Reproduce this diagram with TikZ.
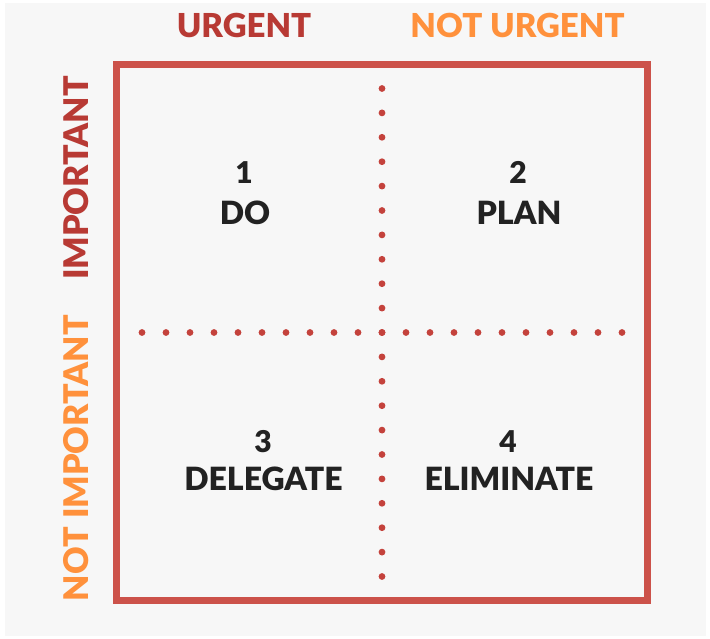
\documentclass[tikz,border=0pt]{standalone}
\usepackage{fontspec}
\setmainfont{Lato}[BoldFont={Lato Black}]
\definecolor{boxred}{RGB}{204,82,74}
\definecolor{dotred}{RGB}{196,66,60}
\definecolor{darkred}{RGB}{184,58,52}
\definecolor{orangec}{RGB}{255,145,60}
\definecolor{bgc}{RGB}{247,247,247}
\definecolor{txt}{RGB}{34,34,34}
\tikzset{
  head/.style={anchor=base, inner sep=0pt, font=\fontsize{33}{38}\selectfont\bfseries},
  side/.style={anchor=base, inner sep=0pt, rotate=90, font=\fontsize{34}{40}\selectfont\bfseries},
  num/.style={anchor=base, inner sep=0pt, text=txt, font=\fontsize{30}{36}\selectfont\bfseries},
  word/.style={anchor=base, inner sep=0pt, text=txt, font=\fontsize{32}{36}\selectfont\bfseries},
  dot/.style={fill=dotred},
}
\begin{document}
\begin{tikzpicture}[x=1pt,y=-1pt]
\useasboundingbox (0,0) rectangle (710,639);
\fill[white] (0,0) rectangle (710,639);
\fill[bgc] (5,3) rectangle (706,636);
% box
\draw[boxred, line width=7pt] (116.5,64.5) rectangle (647.5,600);
% dotted dividers
\foreach \i in {0,...,20} {
  \fill[dot] ({142+24*\i},332.5) circle (3.4pt);
  \fill[dot] (382,{88.5+24.4*\i}) circle (3.4pt);
}
% headers
\node[head, text=darkred] (urg) at (244,38) {URGENT};
\node[head, text=orangec] (nurg) at (517.5,38) {NOT URGENT};
\node[side, text=darkred] (imp) at (88,178) {IMPORTANT};
\node[side, text=orangec] (nimp) at (88,458) {NOT IMPORTANT};
% quadrants
\node[num] (n1) at (244,184) {1};
\node[word] (w1) at (245,225) {DO};
\node[num] (n2) at (518,184) {2};
\node[word] (w2) at (519,225) {PLAN};
\node[num] (n3) at (263,452) {3};
\node[word] (w3) at (263.5,490) {DELEGATE};
\node[num] (n4) at (508,452) {4};
\node[word] (w4) at (509,490) {ELIMINATE};
\end{tikzpicture}
\end{document}
